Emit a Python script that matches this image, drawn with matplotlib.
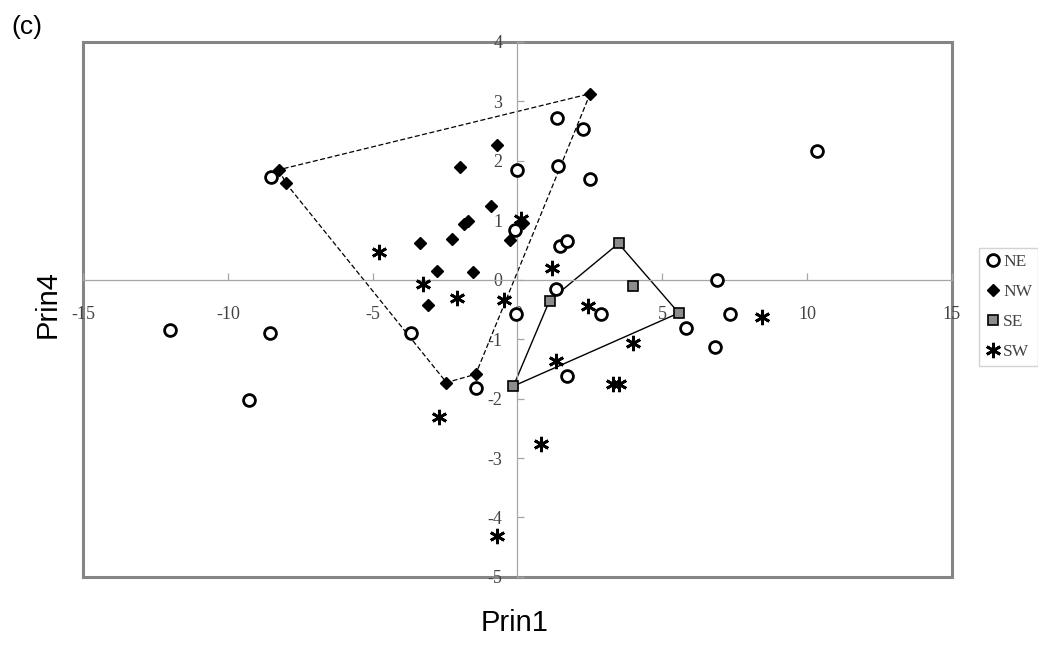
#!/usr/bin/env python3
# Prin1 / Prin4 scores by region, with convex hulls around NW and SE
import numpy as np
import matplotlib
matplotlib.use("Agg")
import matplotlib.pyplot as plt
from matplotlib.patches import Rectangle

# valores
ne_x = [-8.51, -11.99, -8.54, -9.28, -3.68, -1.44, 0.0, -0.08, -0.06, 1.35, 1.40, 2.27,
        2.50, 1.48, 1.71, 1.32, 2.88, 1.71, 5.81, 6.88, 6.81, 7.33, 10.35]
ne_y = [1.72, -0.84, -0.90, -2.02, -0.90, -1.82, 1.85, 0.83, -0.58, 2.72, 1.92, 2.53,
        1.69, 0.56, 0.65, -0.16, -0.58, -1.62, -0.82, -0.01, -1.14, -0.58, 2.17]

nw_x = [-8.24, -7.99, 2.51, -0.72, -1.98, -0.90, -1.72, -1.84, -3.36, -2.26, -2.78,
        -1.53, -3.08, -2.45, -1.44, 0.19, -0.24]
nw_y = [1.85, 1.62, 3.13, 2.27, 1.89, 1.24, 0.99, 0.93, 0.62, 0.68, 0.15,
        0.13, -0.42, -1.73, -1.59, 0.96, 0.66]

se_x = [3.49, 3.98, 1.11, 5.57, -0.14]
se_y = [0.61, -0.10, -0.35, -0.56, -1.79]

sw_x = [-4.77, -3.25, -2.09, -0.46, 0.12, 1.19, 2.43, 8.45, 4.00, 1.34, 3.31, 3.49,
        0.81, -2.70, -0.72]
sw_y = [0.47, -0.07, -0.31, -0.34, 1.03, 0.20, -0.45, -0.63, -1.06, -1.37, -1.76, -1.76,
        -2.76, -2.31, -4.32]

x_ticks = [-15, -10, -5, 0, 5, 10, 15]
y_ticks = [-5, -4, -3, -2, -1, 0, 1, 2, 3, 4]


def convex_hull(xs, ys):
    """Envolvente convexa (monotone chain), devuelta cerrada."""
    pts = sorted(set(zip(xs, ys)))

    def cross(o, a, b):
        return (a[0] - o[0]) * (b[1] - o[1]) - (a[1] - o[1]) * (b[0] - o[0])

    lower, upper = [], []
    for p in pts:
        while len(lower) >= 2 and cross(lower[-2], lower[-1], p) <= 0:
            lower.pop()
        lower.append(p)
    for p in reversed(pts):
        while len(upper) >= 2 and cross(upper[-2], upper[-1], p) <= 0:
            upper.pop()
        upper.append(p)
    hull = lower[:-1] + upper[:-1]
    hull.append(hull[0])
    return np.array(hull)


serif = "Liberation Serif"
sans = "Liberation Sans"

fig = plt.figure(figsize=(10.38, 6.46), dpi=100)
ax = fig.add_axes([0.080, 0.107, 0.837, 0.828])

# envolventes
h = convex_hull(nw_x, nw_y)
ax.plot(h[:, 0], h[:, 1], color="black", lw=0.9, ls=(0, (4, 2)), zorder=2)
h = convex_hull(se_x, se_y)
ax.plot(h[:, 0], h[:, 1], color="black", lw=1.0, zorder=2)

# puntos
ax.plot(ne_x, ne_y, ls="none", marker="o", ms=8.5, mfc="white", mec="black",
        mew=2.0, label="NE", zorder=4)
ax.plot(nw_x, nw_y, ls="none", marker="D", ms=6.5, mfc="black", mec="black",
        label="NW", zorder=4)
ax.plot(se_x, se_y, ls="none", marker="s", ms=7, mfc="#8c8c8c", mec="black",
        mew=1.2, label="SE", zorder=4)
ax.plot(sw_x, sw_y, ls="none", marker=(6, 2, 0), ms=11, mec="black",
        mew=2.0, label="SW", zorder=4)

ax.set_xlim(-15, 15)
ax.set_ylim(-5, 4)

# ejes cruzando en el origen
for side in ["left", "bottom"]:
    ax.spines[side].set_position("zero")
    ax.spines[side].set_color("#a6a6a6")
    ax.spines[side].set_linewidth(0.9)
for side in ["top", "right"]:
    ax.spines[side].set_visible(False)

ax.set_xticks(x_ticks)
ax.set_yticks(y_ticks)
ax.set_xticklabels([str(v) for v in x_ticks], family=serif, fontsize=13, color="#444444")
ax.set_yticklabels([str(v) for v in y_ticks], family=serif, fontsize=13, color="#444444")
ax.tick_params(axis="x", direction="in", length=5, width=0.9, color="#a6a6a6", pad=19)
ax.tick_params(axis="y", direction="in", length=5, width=0.9, color="#a6a6a6", pad=11)

# marco exterior
ax.add_patch(Rectangle((0, 0), 1, 1, transform=ax.transAxes, fill=False,
                       edgecolor="#858585", lw=2.2, clip_on=False, zorder=1))

fig.text(0.4955, 0.035, "Prin1", family=sans, fontsize=21, ha="center", va="center")
fig.text(0.046, 0.53, "Prin4", family=sans, fontsize=21, ha="center", va="center",
         rotation=90)
fig.text(0.011, 0.958, "(c)", family=sans, fontsize=19, ha="left", va="center")

leg = ax.legend(loc="upper left", bbox_to_anchor=(1.031, 0.615), frameon=True,
                fancybox=False, prop={"family": serif, "size": 12.5},
                handletextpad=0.15, handlelength=0.9, labelspacing=0.8,
                borderpad=0.35, borderaxespad=0.0)
leg.get_frame().set_edgecolor("#c8c8c8")
leg.get_frame().set_linewidth(1.0)
for t in leg.get_texts():
    t.set_color("#444444")

fig.savefig("out.png", dpi=100)
